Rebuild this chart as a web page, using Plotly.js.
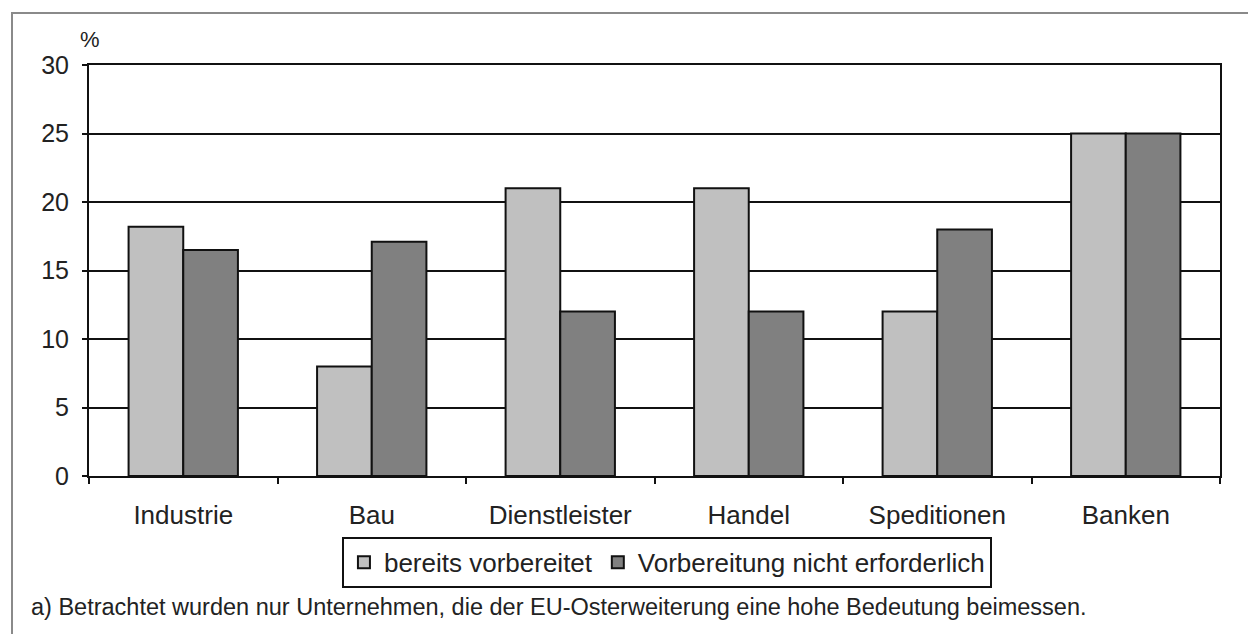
<!DOCTYPE html>
<html>
<head>
<meta charset="utf-8">
<script src="https://cdn.plot.ly/plotly-3.0.1.min.js"></script>
<style>
  html, body { margin: 0; padding: 0; background: #fff; }
  #wrap { position: relative; width: 1248px; height: 634px; overflow: hidden; }
  #chart { position: absolute; left: 0; top: 0; width: 1248px; height: 634px; }
  #frame { position: absolute; left: 11px; top: 12px; width: 1260px; height: 640px;
           border-top: 2px solid #8a8a8a; border-left: 2px solid #8a8a8a; pointer-events: none; }
</style>
</head>
<body>
<div id="wrap">
  <div id="chart"></div>
  <div id="frame"></div>
</div>
<script>
const categories = ["Industrie", "Bau", "Dienstleister", "Handel", "Speditionen", "Banken"];
const seriesNames = ["bereits vorbereitet", "Vorbereitung nicht erforderlich"];
const bereitsVorbereitet = [18.2, 8.0, 21.0, 21.0, 12.0, 25.0];
const nichtErforderlich = [16.5, 17.1, 12.0, 12.0, 18.0, 25.0];
const yTicks = [0, 5, 10, 15, 20, 25, 30];
const unitLabel = "%";
const footnote = "a) Betrachtet wurden nur Unternehmen, die der EU-Osterweiterung eine hohe Bedeutung beimessen.";

const FONT = "Liberation Sans, Arial, sans-serif";
const TXT = "#222";

const traces = [
  {
    type: "bar", name: seriesNames[0], x: categories, y: bereitsVorbereitet,
    marker: { color: "#c0c0c0", line: { color: "#111", width: 2 } },
    hoverinfo: "skip"
  },
  {
    type: "bar", name: seriesNames[1], x: categories, y: nichtErforderlich,
    marker: { color: "#808080", line: { color: "#111", width: 2 } },
    hoverinfo: "skip"
  }
];

const layout = {
  width: 1248, height: 634,
  margin: { l: 89, r: 28, t: 65, b: 158 },
  paper_bgcolor: "#fff", plot_bgcolor: "#fff",
  font: { family: FONT, size: 25, color: TXT },
  barmode: "group", bargap: 0.42, bargroupgap: 0,
  showlegend: true,
  legend: {
    orientation: "h", x: 0.511, xanchor: "center", y: -0.148, yanchor: "top",
    bordercolor: "#111", borderwidth: 2, bgcolor: "#fff",
    font: { family: FONT, size: 26, color: TXT },
    itemwidth: 30, tracegroupgap: 0
  },
  xaxis: {
    type: "category",
    showline: true, linecolor: "#111", linewidth: 2, mirror: true,
    ticks: "outside", tickson: "boundaries", ticklen: 6, tickwidth: 2, tickcolor: "#111",
    ticklabelstandoff: 15,
    tickfont: { family: FONT, size: 26, color: TXT },
    showgrid: false, zeroline: false, fixedrange: true
  },
  yaxis: {
    range: [0, 30], tickvals: yTicks, ticktext: yTicks.map(String),
    showline: true, linecolor: "#111", linewidth: 2, mirror: true,
    ticks: "outside", ticklen: 5, tickwidth: 2, tickcolor: "#111",
    ticklabelstandoff: 8,
    showgrid: true, gridcolor: "#111", gridwidth: 2, zeroline: false,
    tickfont: { family: FONT, size: 25, color: TXT },
    fixedrange: true
  },
  annotations: [
    {
      text: unitLabel, xref: "paper", yref: "paper", x: 0.001, y: 1.061,
      xanchor: "center", yanchor: "middle", showarrow: false,
      font: { family: FONT, size: 22, color: TXT }
    },
    {
      text: footnote, xref: "paper", yref: "paper", x: 0.4156, y: -0.319,
      xanchor: "center", yanchor: "middle", showarrow: false,
      font: { family: FONT, size: 23.5, color: TXT }
    }
  ]
};

Plotly.newPlot("chart", traces, layout, { displayModeBar: false, staticPlot: true });
</script>
</body>
</html>
